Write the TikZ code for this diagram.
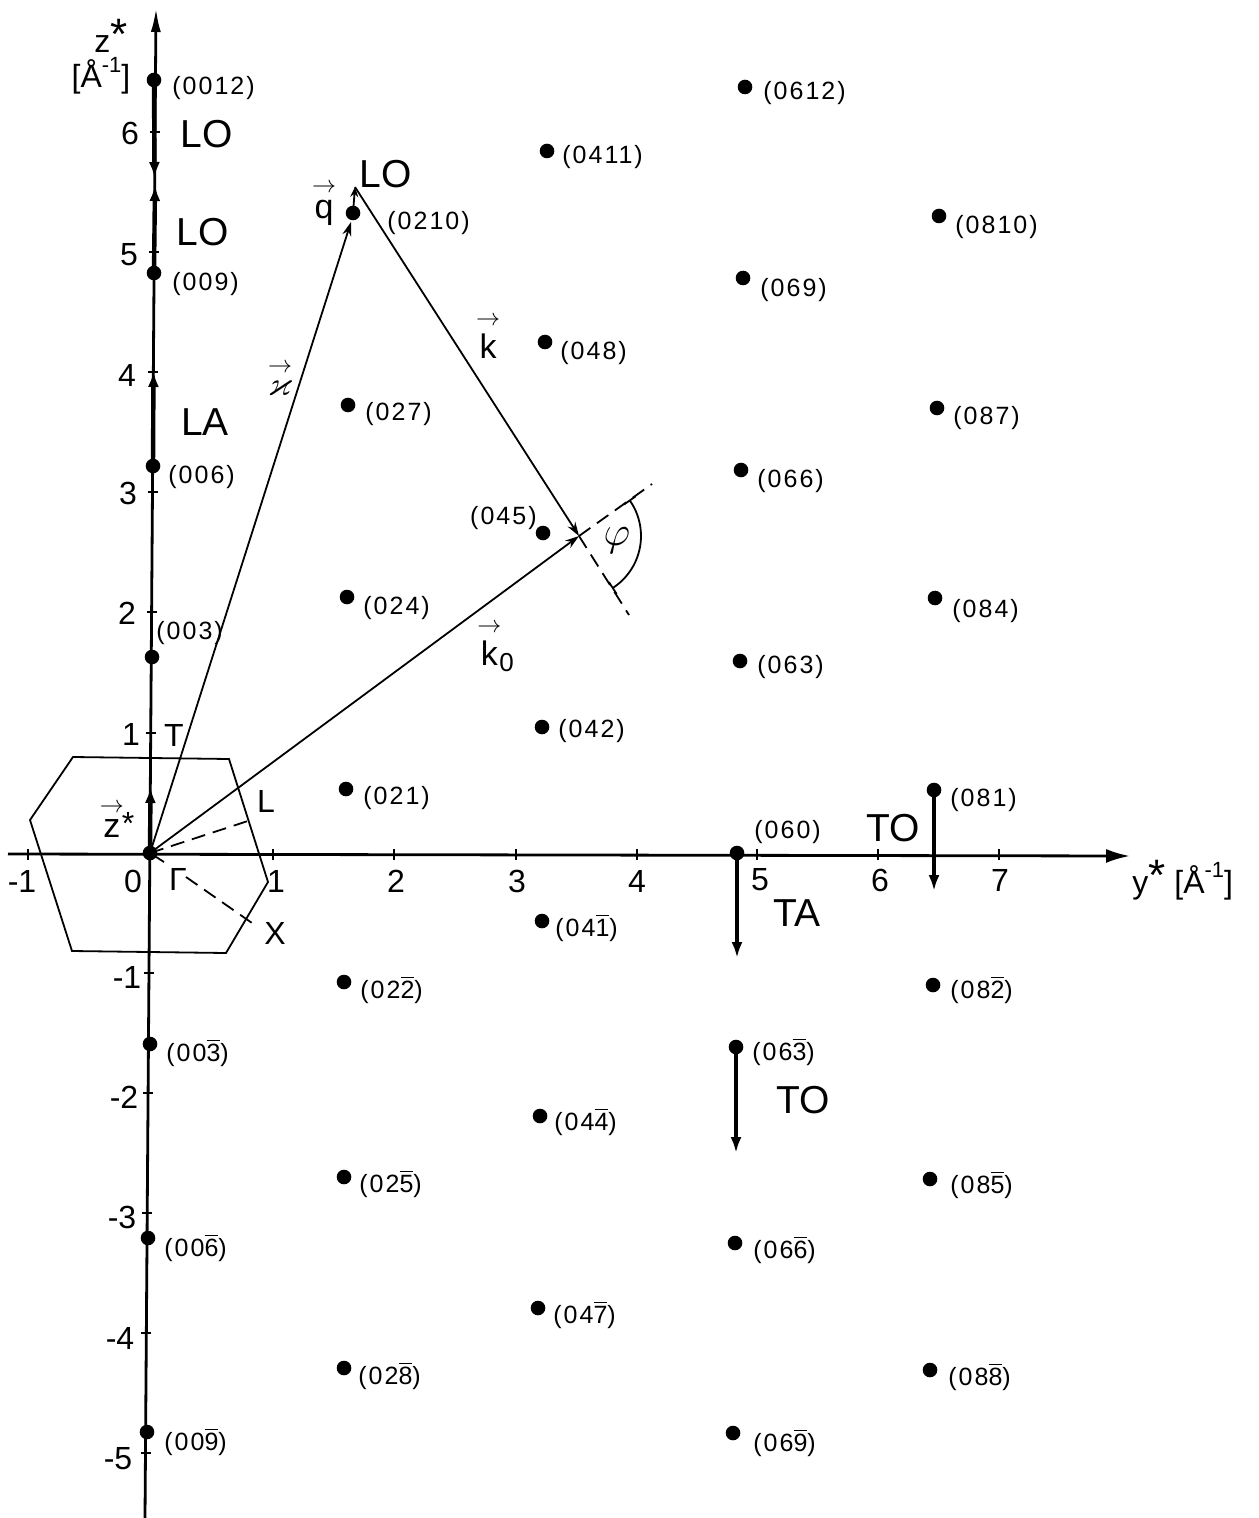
\documentclass[tikz,border=0pt]{standalone}
\usepackage{amsmath,amssymb}
\usepackage{fontspec}
\setmainfont{Liberation Sans}
\newfontfamily\lblfont[LetterSpace=8]{Liberation Sans}
\usetikzlibrary{arrows.meta}
\newcommand\ob[1]{$\overline{\mbox{#1}}$}
\newcommand\varr{\raisebox{0.5pt}{$\scriptstyle\rightarrow$}}
\newcommand\vl[1]{$\overset{\varr}{\mbox{#1}}$}
\begin{document}
\begin{tikzpicture}[x=0.5pt,y=-0.5pt,
  dot/.style={circle,fill=black,inner sep=0pt,minimum size=7.3pt},
  idx/.style={font=\fontsize{12.5}{12.5}\lblfont,inner sep=0pt,anchor=west},
  big/.style={font=\fontsize{19.5}{19.5}\selectfont,inner sep=0pt},
  num/.style={font=\fontsize{16}{16}\selectfont,inner sep=0pt},
  vlab/.style={font=\fontsize{17}{17}\selectfont,inner sep=0pt},
  axisline/.style={line width=1.4pt},
  tickmark/.style={line width=0.9pt},
  vecline/.style={line width=0.9pt,-{Stealth[length=7pt,width=4.5pt]}},
  phon/.style={line width=2.2pt,-{Latex[length=8pt,width=5.5pt]}},
  hexline/.style={line width=0.9pt},
  dashedline/.style={line width=0.9pt,dash pattern=on 7pt off 4pt}]
\useasboundingbox (0,0) rectangle (1258,1518);

% axes
\coordinate (ztop) at (156,8);
\coordinate (zbot) at (145,1518);
\coordinate (yl) at (8,854);
\coordinate (yr) at (1130,856);
\draw[axisline,-{Latex[length=12pt,width=5pt]}] (zbot) -- (ztop);
\draw[axisline,-{Latex[length=12pt,width=7pt]}] (yl) -- (yr);

% z ticks
\foreach \yy/\xx in {132/155.1,252/154.2,372/153.3,492/152.5,612/151.6,733/150.7,973/149,1093/148.1,1213/147.2,1333/146.3,1453/145.5}
  {\draw[tickmark] (\xx-5,\yy) -- (\xx+5,\yy);}
% y ticks
\foreach \xx in {28,273,394,516,637,757,878,999}
  {\draw[tickmark] (\xx,849) -- (\xx,860);}

% z tick labels
\node[num] (zt6) at (130,133) {6};
\node[num] (zt5) at (129,255) {5};
\node[num] (zt4) at (127,375) {4};
\node[num] (zt3) at (128,493) {3};
\node[num] (zt2) at (127,613) {2};
\node[num] (zt1) at (131,734) {1};
\node[num] (ztm1) at (127,977) {-1};
\node[num] (ztm2) at (124,1097) {-2};
\node[num] (ztm3) at (122,1217) {-3};
\node[num] (ztm4) at (120,1338) {-4};
\node[num] (ztm5) at (118,1459) {-5};
% y tick labels
\node[num] (ytm1) at (22,881) {-1};
\node[num] (yt0) at (133,881) {0};
\node[num] (yt1) at (276,881) {1};
\node[num] (yt2) at (396,881) {2};
\node[num] (yt3) at (517,881) {3};
\node[num] (yt4) at (637,881) {4};
\node[num] (yt5) at (760,880) {5};
\node[num] (yt6) at (880,880) {6};
\node[num] (yt7) at (1000,880) {7};

% axis labels
\node[num] (zlab) at (111,36) {z\raisebox{0.15ex}{\fontsize{22}{22}\selectfont *}};
\node[num] (zunit) at (101,76) {[Å\raisebox{0.9ex}{\fontsize{11}{11}\selectfont -1}]};
\node[num,anchor=west] (ylab) at (1132,880) {y\raisebox{0.15ex}{\fontsize{22}{22}\selectfont *} [Å\raisebox{0.9ex}{\fontsize{11}{11}\selectfont -1}]};

% Brillouin zone
\draw[hexline] (73,757) -- (229,759) -- (268,882) -- (226,953) -- (72,951) -- (30,820) -- cycle;

% lattice points, column k=0
\node[dot] (G) at (150,853) {};
\node[dot] (p0012) at (154,80) {};
\node[dot] (p009) at (154,273) {};
\node[dot] (p006) at (153,466) {};
\node[dot] (p003) at (152,657) {};
\node[dot] (p00m3) at (150,1044) {};
\node[dot] (p00m6) at (148,1238) {};
\node[dot] (p00m9) at (147,1432) {};
\node[idx] (l0012) at (172,88) {(0012)};
\node[idx] (l009) at (172,284) {(009)};
\node[idx] (l006) at (168,477) {(006)};
\node[idx] (l003) at (156,633) {(003)};
\node[idx] (l00m3) at (166,1053) {(00\ob{3})};
\node[idx] (l00m6) at (164,1248) {(00\ob{6})};
\node[idx] (l00m9) at (164,1442) {(00\ob{9})};
% k=2
\node[dot] (p0210) at (353,213) {};
\node[dot] (p027) at (348,405) {};
\node[dot] (p024) at (347,597) {};
\node[dot] (p021) at (346,789) {};
\node[dot] (p02m2) at (344,982) {};
\node[dot] (p02m5) at (344,1177) {};
\node[dot] (p02m8) at (344,1368) {};
\node[idx] (l0210) at (387,223) {(0210)};
\node[idx] (l027) at (365,414) {(027)};
\node[idx] (l024) at (363,608) {(024)};
\node[idx] (l021) at (363,798) {(021)};
\node[idx] (l02m2) at (360,990) {(02\ob{2})};
\node[idx] (l02m5) at (359,1184) {(02\ob{5})};
\node[idx] (l02m8) at (358,1376) {(02\ob{8})};
% k=4
\node[dot] (p0411) at (547,151) {};
\node[dot] (p048) at (545,342) {};
\node[dot] (p045) at (543,533) {};
\node[dot] (p042) at (542,727) {};
\node[dot] (p04m1) at (542,921) {};
\node[dot] (p04m4) at (540,1116) {};
\node[dot] (p04m7) at (538,1308) {};
\node[idx] (l0411) at (562,157) {(0411)};
\node[idx] (l048) at (560,353) {(048)};
\node[idx,anchor=east] (l045) at (537,518) {(045)};
\node[idx] (l042) at (558,731) {(042)};
\node[idx] (l04m1) at (555,928) {(04\ob{1})};
\node[idx] (l04m4) at (554,1122) {(04\ob{4})};
\node[idx] (l04m7) at (553,1315) {(04\ob{7})};
% k=6
\node[dot] (p0612) at (745,87) {};
\node[dot] (p069) at (743,278) {};
\node[dot] (p066) at (741,470) {};
\node[dot] (p063) at (740,661) {};
\node[dot] (p060) at (737,853) {};
\node[dot] (p06m3) at (736,1047) {};
\node[dot] (p06m6) at (735,1243) {};
\node[dot] (p06m9) at (733,1433) {};
\node[idx] (l0612) at (763,93) {(0612)};
\node[idx] (l069) at (760,290) {(069)};
\node[idx] (l066) at (757,481) {(066)};
\node[idx] (l063) at (757,667) {(063)};
\node[idx] (l060) at (754,832) {(060)};
\node[idx] (l06m3) at (752,1052) {(06\ob{3})};
\node[idx] (l06m6) at (753,1250) {(06\ob{6})};
\node[idx] (l06m9) at (753,1443) {(06\ob{9})};
% k=8
\node[dot] (p0810) at (939,216) {};
\node[dot] (p087) at (937,408) {};
\node[dot] (p084) at (935,598) {};
\node[dot] (p081) at (934,790) {};
\node[dot] (p08m2) at (933,985) {};
\node[dot] (p08m5) at (930,1179) {};
\node[dot] (p08m8) at (930,1370) {};
\node[idx] (l0810) at (955,227) {(0810)};
\node[idx] (l087) at (953,418) {(087)};
\node[idx] (l084) at (952,611) {(084)};
\node[idx] (l081) at (950,800) {(081)};
\node[idx] (l08m2) at (950,990) {(08\ob{2})};
\node[idx] (l08m5) at (950,1185) {(08\ob{5})};
\node[idx] (l08m8) at (948,1377) {(08\ob{8})};

% phonon arrows
\coordinate (lo1) at (154.5,178);
\coordinate (lo2) at (155,185);
\coordinate (la) at (153.5,371);
\coordinate (zs) at (150.5,787);
\coordinate (ta) at (737,958);
\coordinate (to1) at (934,891);
\coordinate (to2) at (736,1153);
\draw[phon] (p0012.center) -- (lo1);
\draw[phon] (p009.center) -- (lo2);
\draw[phon] (p006.center) -- (la);
\draw[phon] (G.center) -- (zs);
\draw[phon] (p060.center) -- (ta);
\draw[phon] (p081.center) -- (to1);
\draw[phon] (p06m3.center) -- (to2);

% scattering triangle
\coordinate (apex) at (355,187);
\coordinate (tip) at (579,536);
\coordinate (kap) at (351,222);
\draw[vecline] (G.center) -- (tip);
\draw[vecline] (apex) -- (tip);
\draw[vecline] (G.center) -- (kap);
\draw[line width=0.9pt,-{Stealth[length=5pt,width=4pt]}] (p0210.center) -- (apex);

% scattering angle
\coordinate (d1) at (652,484);
\coordinate (d2) at (629,615);
\draw[dashedline] (tip) -- (d1);
\draw[dashedline] (tip) -- (d2);
\draw[line width=0.9pt] (tip) ++(-35:62) arc[start angle=-35,end angle=57,radius=62];
\draw[line width=0.9pt] (tip) ++(-35:55) -- ++(-35:14);
\draw[line width=0.9pt] (tip) ++(57:55) -- ++(57:14);
\node[big] (phi) at (617,541) {$\varphi$};

% BZ directions
\coordinate (Lend) at (254,819);
\coordinate (xa) at (164,862);
\coordinate (xb) at (186,877);
\coordinate (Xend) at (252,923);
\draw[dashedline] (G.center) -- (Lend);
\draw[line width=0.9pt] (G.center) -- (xa);
\draw[dashedline] (xb) -- (Xend);

% letters
\node[num] (Tl) at (174,735) {T};
\node[num] (Ll) at (266,801) {L};
\node[num] (Xl) at (275,933) {X};
\node[num] (Gl) at (178,879) {Γ};
\node[big] (LO1) at (207,134) {LO};
\node[big] (LO2) at (203,232) {LO};
\node[big] (LA) at (205,422) {LA};
\node[big] (LO3) at (386,174) {LO};
\node[big] (TA) at (797,913) {TA};
\node[big] (TO1) at (893,828) {TO};
\node[big] (TO2) at (803,1100) {TO};

% vector labels
\node[vlab] (qlab) at (324,203) {\vl{q}};
\node[vlab] (kaplab) at (280,378) {$\overset{\varr}{\varkappa}$};
\node[vlab] (klab) at (488,336) {\vl{k}};
\node[vlab] (k0lab) at (496,646) {\vl{k}$_{\hspace{-1pt}\mbox{\fontsize{13}{13}\selectfont 0}}$};
\node[vlab] (zslab) at (117,819) {\vl{z}\hspace{-1pt}\raisebox{0.2ex}{\fontsize{16}{16}\selectfont *}};
\end{tikzpicture}
\end{document}
